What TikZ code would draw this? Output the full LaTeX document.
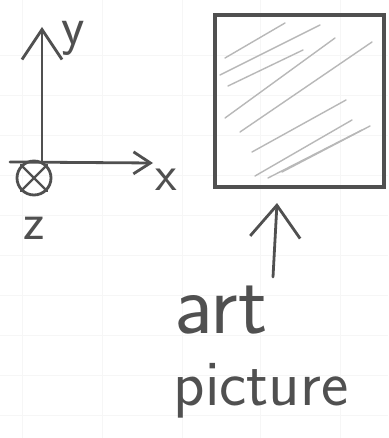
\documentclass[tikz,border=0pt]{standalone}
\usepackage{fontspec}
\usetikzlibrary{arrows.meta}
\definecolor{pencil}{HTML}{505050}
\definecolor{hatch}{HTML}{B8B8B8}
\tikzset{
  pen/.style={draw=pencil, line width=2.8pt, line cap=round, line join=round},
  barbY/.style={-{Straight Barb[length=30pt,width=40pt,line width=2.8pt]}},
  barbX/.style={-{Straight Barb[length=17pt,width=22pt,line width=2.8pt]}},
  barbA/.style={-{Straight Barb[length=32pt,width=50pt,line width=2.8pt]}},
  hatchline/.style={draw=hatch, line width=1.4pt, line cap=round},
  hand/.style={text=pencil, inner sep=0pt},
}
\begin{document}
\begin{tikzpicture}[x=1pt,y=-1pt]
\useasboundingbox[fill=white] (0,0) rectangle (388,438);
% faint grid
\foreach \gx in {22,102,182,260,340} \draw[gray!7,line width=0.8pt] (\gx,0) -- (\gx,438);
\foreach \gy in {55,95,135,175,215,255,295,335,375,415} \draw[gray!7,line width=0.8pt] (0,\gy) -- (388,\gy);
% axes
\coordinate (o) at (42,162);
\coordinate (ytip) at (42,27);
\coordinate (xstart) at (10,162);
\coordinate (xtip) at (153,163);
\draw[pen,barbY] (o) -- (ytip);
\draw[pen,barbX] (xstart) -- (xtip);
\node[hand,font=\sffamily\fontsize{54}{54}\selectfont] (ylab) at (73,38) {y};
\node[hand,font=\sffamily\fontsize{50}{50}\selectfont] (xlab) at (166,180) {x};
% z into page
\node[pen,circle,minimum size=34pt,inner sep=0pt] (zc) at (34,178) {};
\draw[pen,line width=2.4pt] (zc.north west) -- (zc.south east) (zc.north east) -- (zc.south west);
\node[hand,font=\sffamily\fontsize{52}{52}\selectfont] (zlab) at (34,228) {z};
% art picture square
\node[draw=pencil,line width=3.6pt,minimum width=169pt,minimum height=172pt,inner sep=0pt] (art) at (299.5,101) {};
% hatching
\draw[hatchline] (225,58) -- (285,23);
\draw[hatchline] (220,75) -- (320,25);
\draw[hatchline] (228,86) -- (303,50);
\draw[hatchline] (225,118) -- (335,38);
\draw[hatchline] (240,132) -- (372,42);
\draw[hatchline] (252,152) -- (346,100);
\draw[hatchline] (255,176) -- (352,120);
\draw[hatchline] (268,178) -- (362,130);
\draw[hatchline] (282,172) -- (370,126);
% labels
\node[hand,anchor=base,text depth=0pt,font=\sffamily\fontsize{86}{86}\selectfont] (artlab) at (221,333) {art};
\node[hand,anchor=base,text height=30pt,font=\sffamily\fontsize{65}{65}\selectfont] (piclab) at (261,405) {picture};
\coordinate (abot) at (273,277);
\coordinate (atip) at (277,203);
\draw[pen,barbA] (abot) -- (atip);
\end{tikzpicture}
\end{document}
